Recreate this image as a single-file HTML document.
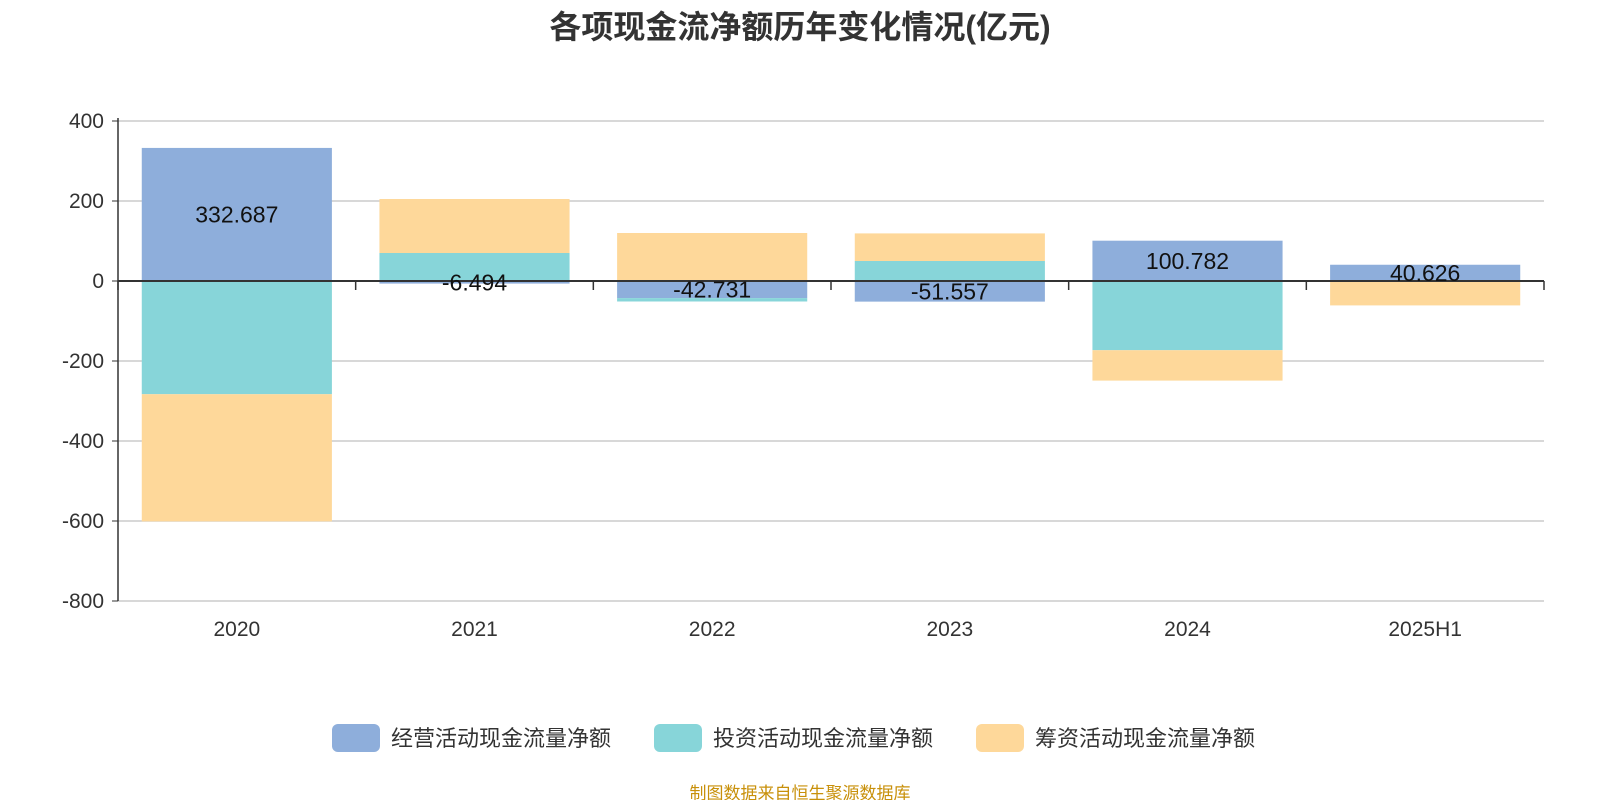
<!DOCTYPE html>
<html><head><meta charset="utf-8"><style>
body{margin:0;background:#fff;font-family:"Liberation Sans","Noto Sans CJK SC",sans-serif}
svg text{font-family:"Liberation Sans","Noto Sans CJK SC",sans-serif}
</style></head><body>
<svg id="c" width="1600" height="800" xmlns="http://www.w3.org/2000/svg">
<text x="800" y="38" text-anchor="middle" font-size="32" font-weight="bold" fill="#333">各项现金流净额历年变化情况(亿元)</text>
<g id="grid"></g><g id="bars"></g><g id="axes"></g><g id="labels"></g>
<g id="legend"></g>
<text x="800" y="799" text-anchor="middle" font-size="17" fill="#c8900a">制图数据来自恒生聚源数据库</text>
</svg>
<script>
const categories=["2020","2021","2022","2023","2024","2025H1"];
const operating=[332.687,-6.494,-42.731,-51.557,100.782,40.626];
const investing=[-283,70,-8.5,50,-173,-2];
const financing=[-318,135,120,69,-76,-59];
const yTicks=[400,200,0,-200,-400,-600,-800];
const seriesNames=["经营活动现金流量净额","投资活动现金流量净额","筹资活动现金流量净额"];
const colors=["#8eaedb","#87d5d9","#fed89a"];
const NS="http://www.w3.org/2000/svg";
const L=118,R=1544,T=121,B=601,yMin=-800,yMax=400;
const y=v=>T+(yMax-v)/(yMax-yMin)*(B-T);
const bw=(R-L)/categories.length;
const xc=i=>L+bw*(i+0.5);
function mk(tag,attrs,parent){const e=document.createElementNS(NS,tag);for(const k in attrs)e.setAttribute(k,attrs[k]);document.getElementById(parent).appendChild(e);return e;}
yTicks.forEach(t=>{
 const g=mk("line",{x1:L,x2:R,y1:y(t),y2:y(t),stroke:"#ccc","stroke-width":1.5},"grid");
 
 
 const tk=mk("line",{x1:L-6,x2:L,y1:y(t),y2:y(t),stroke:"#333"},"axes");
 
 
 const tx=mk("text",{x:L-14,y:y(t)+7,"text-anchor":"end","font-size":21,fill:"#333"},"axes");
 tx.textContent=t;
 
 
});
const ya=mk("line",{x1:L,x2:L,y1:T-3,y2:B,stroke:"#333","stroke-width":1.5},"axes");


const xa=mk("line",{x1:L,x2:R,y1:y(0),y2:y(0),stroke:"#333","stroke-width":2},"axes");


for(let i=0;i<=categories.length;i++){
 const t=mk("line",{x1:L+bw*i,x2:L+bw*i,y1:y(0),y2:y(0)+9,stroke:"#333","stroke-width":1.5},"axes");
 
 
}
const series=[operating,investing,financing];
categories.forEach((c,i)=>{
 let pos=0,neg=0;
 series.forEach((s,k)=>{
  const v=s[i];let a,b;
  if(v>=0){a=pos;b=pos+v;pos=b;}else{a=neg;b=neg+v;neg=b;}
  const r=mk("rect",{x:xc(i)-bw*0.4,width:bw*0.8,y:Math.min(y(a),y(b)),height:Math.abs(y(a)-y(b)),fill:colors[k]},"bars");
  
  
 });
 const v=operating[i];
 const lt=mk("text",{x:xc(i),y:y(v/2)+8,"text-anchor":"middle","font-size":23,fill:"#111"},"labels");
 lt.textContent=v;
 
 
 const xl=mk("text",{x:xc(i),y:636,"text-anchor":"middle","font-size":21,fill:"#333"},"axes");
 xl.textContent=c;
 
 
});
const lx=[332,654,976];
seriesNames.forEach((n,k)=>{
 const r=mk("rect",{x:lx[k],y:724,width:48,height:28,rx:6,fill:colors[k]},"legend");
 
 
 const t=mk("text",{x:lx[k]+59,y:746,"font-size":22,fill:"#333"},"legend");
 t.textContent=n;
 
 
});
</script>
</body></html>
